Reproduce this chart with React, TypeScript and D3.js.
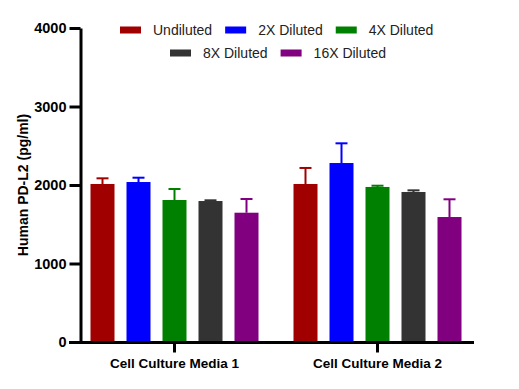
import { axisBottom, axisLeft, format, scaleBand, scaleLinear, select } from 'd3';
import { useEffect, useRef } from 'react';

const groups = ['Cell Culture Media 1', 'Cell Culture Media 2'];
const series = ['Undiluted', '2X Diluted', '4X Diluted', '8X Diluted', '16X Diluted'];
const colors = ['#a00000', '#0000ff', '#008000', '#333333', '#800080'];
// mean per series, [media 1, media 2]
const means = [
  [2013, 2013],
  [2038, 2280],
  [1809, 1975],
  [1796, 1911],
  [1647, 1592],
];
// upper error (SD)
const errs = [
  [72, 204],
  [55, 251],
  [140, 16],
  [9, 21],
  [175, 226],
];
const yTicks = [0, 1000, 2000, 3000, 4000];
const legendRows = [
  [0, 1, 2],
  [3, 4],
];

export default function App() {
  const svgRef = useRef<SVGSVGElement>(null);

  useEffect(() => {
    document.body.style.margin = '0';
    const width = 519;
    const height = 389;
    const font = '"Liberation Sans", Arial, sans-serif';

    const svg = select(svgRef.current);
    svg.selectAll('*').remove();
    svg.attr('width', width).attr('height', height).style('font-family', font);

    const x0 = scaleBand().domain(groups).range([73, 479]);
    const x1 = scaleBand()
      .domain(series)
      .range([-90, 90])
      .paddingInner(1 / 3)
      .paddingOuter(1 / 6);
    const y = scaleLinear().domain([0, 4000]).range([342, 28]);

    // bars + error bars
    series.forEach((s, i) => {
      groups.forEach((g, j) => {
        const cx = x0(g)! + x0.bandwidth() / 2;
        const bx = cx + x1(s)!;
        const m = means[i][j];
        const top = y(m + errs[i][j]);
        const mid = bx + x1.bandwidth() / 2;
        svg
          .append('line')
          .attr('x1', mid)
          .attr('x2', mid)
          .attr('y1', y(m))
          .attr('y2', top)
          .attr('stroke', colors[i])
          .attr('stroke-width', 2);
        svg
          .append('line')
          .attr('x1', mid - 6)
          .attr('x2', mid + 6)
          .attr('y1', top)
          .attr('y2', top)
          .attr('stroke', colors[i])
          .attr('stroke-width', 2);
        svg
          .append('rect')
          .attr('x', bx)
          .attr('y', y(m))
          .attr('width', x1.bandwidth())
          .attr('height', y(0) - y(m))
          .attr('fill', colors[i]);
      });
    });

    // y axis
    const ya = svg
      .append('g')
      .attr('transform', 'translate(80.5,0)')
      .call(
        axisLeft(y)
          .tickValues(yTicks)
          .tickFormat(format('d'))
          .tickSize(11)
          .tickPadding(3)
          .tickSizeOuter(0)
      );
    ya.select('.domain').attr('stroke', '#000').attr('stroke-width', 3);
    ya.selectAll('.tick line').attr('stroke', '#000').attr('stroke-width', 3);
    ya.selectAll('.tick text')
      .attr('fill', '#000')
      .style('font-size', '14.5px')
      .style('font-weight', 'bold')
      .style('font-family', font);

    // x axis
    const xa = svg
      .append('g')
      .attr('transform', `translate(0,${y(0) + 0.5})`)
      .call(axisBottom(x0).tickSize(10).tickPadding(6).tickSizeOuter(0));
    xa.select('.domain').attr('d', 'M69,0H474').attr('stroke', '#000').attr('stroke-width', 3);
    xa.selectAll('.tick line').attr('stroke', '#000').attr('stroke-width', 3);
    xa.selectAll('.tick text')
      .attr('fill', '#000')
      .style('font-size', '13.5px')
      .style('font-weight', 'bold')
      .style('font-family', font);

    svg
      .append('text')
      .attr('transform', 'translate(28,185) rotate(-90)')
      .attr('text-anchor', 'middle')
      .attr('fill', '#000')
      .style('font-size', '14px')
      .style('font-weight', 'bold')
      .text('Human PD-L2 (pg/ml)');

    // legend
    const rowY = [30, 53];
    const rowStart = [120, 170];
    legendRows.forEach((row, r) => {
      const g = svg.append('g').attr('transform', `translate(${rowStart[r]},0)`);
      let cursor = 0;
      row.forEach((i) => {
        g.append('rect')
          .attr('x', cursor)
          .attr('y', rowY[r] - 3.5)
          .attr('width', 21)
          .attr('height', 7)
          .attr('fill', colors[i]);
        const t = g
          .append('text')
          .attr('x', cursor + 33)
          .attr('y', rowY[r] + 5)
          .attr('fill', '#222')
          .style('font-size', '14px')
          .text(series[i]);
        const w = (t.node() as SVGTextElement).getComputedTextLength();
        cursor += 33 + w + 13;
      });
    });
  }, []);

  return (
    <div>
      <svg ref={svgRef}></svg>
    </div>
  );
}
